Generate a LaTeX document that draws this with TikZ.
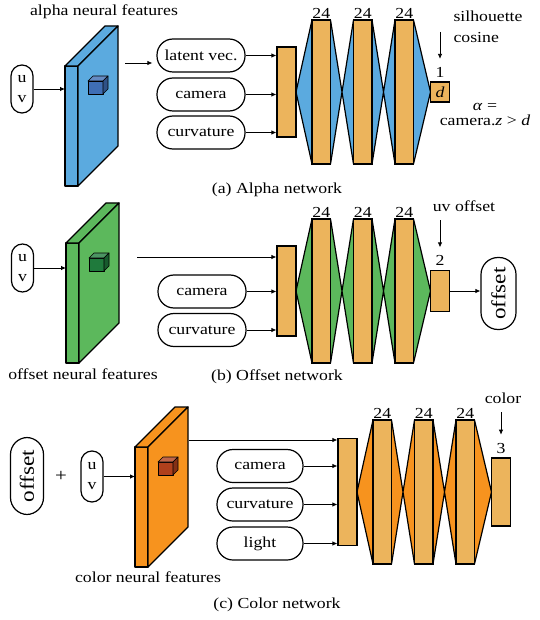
\documentclass[tikz,border=0pt]{standalone}
\usepackage{fontspec}
\setmainfont{Liberation Serif}[FakeStretch=1.16]
\usetikzlibrary{arrows.meta}
\definecolor{layerc}{HTML}{ECB45C}
\definecolor{blueA}{HTML}{5BAADF}
\definecolor{cubeA}{HTML}{3F6EB4}
\definecolor{greenB}{HTML}{5CB85C}
\definecolor{cubeB}{HTML}{1F7A3C}
\definecolor{orangeC}{HTML}{F7931E}
\definecolor{cubeC}{HTML}{B0401C}
\tikzset{
 txt/.style={font=\fontsize{15.3}{18}\selectfont},
 pill/.style={draw, line width=1.2pt, rounded corners=16pt, minimum width=88pt, minimum height=33pt, inner sep=0pt, txt},
 uvnode/.style={draw, line width=1.2pt, rounded corners=11pt, minimum width=22pt, minimum height=48pt, inner sep=0pt, align=center, txt},
 offnode/.style={draw, line width=1.2pt, rounded corners=17pt, rotate=90, minimum width=72pt, minimum height=35pt, inner sep=0pt, font=\fontsize{20}{22}\selectfont},
 layer/.style={draw, line width=1.2pt, fill=layerc, minimum width=18.5pt, inner sep=0pt, txt},
 arr/.style={-{Latex[length=5pt,width=4.5pt]}, line width=0.8pt},
 slabline/.style={draw=black, line width=1.3pt, line join=round},
 numlbl/.style={txt, anchor=south, inner sep=0pt, yshift=4pt},
}
% slab: #1 x, #2 y (front top-left), #3 colour, #4 cube colour
\newcommand\myslab[4]{%
 \filldraw[slabline, fill=#3] (#1,#2) rectangle ({#1+13},{#2+120});
 \filldraw[slabline, fill=#3] (#1,#2) -- ({#1+40},{#2-40}) -- ({#1+53},{#2-40}) -- ({#1+13},#2) -- cycle;
 \filldraw[slabline, fill=#3] ({#1+13},#2) -- ({#1+53},{#2-40}) -- ({#1+53},{#2+80}) -- ({#1+13},{#2+120}) -- cycle;
 \filldraw[draw=black, line width=0.6pt, line join=round, fill=#4] ({#1+23},{#2+15}) rectangle ({#1+38},{#2+28});
 \filldraw[draw=black, line width=0.6pt, line join=round, fill=#4!80!white] ({#1+23},{#2+15}) -- ({#1+28},{#2+10}) -- ({#1+43},{#2+10}) -- ({#1+38},{#2+15}) -- cycle;
 \filldraw[draw=black, line width=0.6pt, line join=round, fill=#4!75!black] ({#1+38},{#2+15}) -- ({#1+43},{#2+10}) -- ({#1+43},{#2+23}) -- ({#1+38},{#2+28}) -- cycle;
}
% network: #1 x0, #2 yc, #3 first half height, #4 out half height, #5 colour, #6 prefix, #7 out text
\newcommand\mlp[7]{%
 \filldraw[fill=#5, draw=black, line width=1.2pt, line join=round]
  ({#1+19},#2) -- ({#1+35},{#2-72}) -- ({#1+53.5},{#2-72}) -- ({#1+65},#2)
  -- ({#1+76.5},{#2-72}) -- ({#1+95},{#2-72}) -- ({#1+106.5},#2)
  -- ({#1+118},{#2-72}) -- ({#1+136.5},{#2-72}) -- ({#1+153.5},#2)
  -- ({#1+136.5},{#2+72}) -- ({#1+118},{#2+72}) -- ({#1+106.5},#2)
  -- ({#1+95},{#2+72}) -- ({#1+76.5},{#2+72}) -- ({#1+65},#2)
  -- ({#1+53.5},{#2+72}) -- ({#1+35},{#2+72}) -- cycle;
 \node[layer, minimum width=19pt, minimum height={2*#3}] (#6in) at ({#1+9.5},#2) {};
 \node[layer, minimum height=144pt] (#6l1) at ({#1+44.25},#2) {};
 \node[layer, minimum height=144pt] (#6l2) at ({#1+85.75},#2) {};
 \node[layer, minimum height=144pt] (#6l3) at ({#1+127.25},#2) {};
 \node[layer, minimum width=19pt, minimum height={2*#4}] (#6out) at ({#1+163},#2) {#7};
 \foreach \i in {1,2,3} \node[txt, anchor=south, inner sep=1pt] at (#6l\i.north) {24};
}
\begin{document}
\begin{tikzpicture}[x=1pt, y=-1pt]
\useasboundingbox (0,0) rectangle (539,620);

% ---------------- (a) ----------------
\node[txt] (atitle) at (104,12) {alpha neural features};
\node[uvnode] (ua) at (22,89) {u\\[2pt]v};
\myslab{65}{66}{blueA}{cubeA}
\coordinate (aslabin) at (65,66);
\coordinate (aso) at (125,63);
\draw[arr] (ua.east) -- (ua.east -| aslabin);
\node[pill] (alat) at (201,55.5) {latent vec.};
\node[pill] (acam) at (201,94.5) {camera};
\node[pill] (acur) at (201,132.5) {curvature};
\draw[arr, shorten >=4pt] (aso) -- (aso -| alat.west);
\mlp{277}{92}{45}{10}{blueA}{a}{\textit{d}}
\draw[arr] (alat.east) -- (alat.east -| ain.west);
\draw[arr] (acam.east) -- (acam.east -| ain.west);
\draw[arr] (acur.east) -- (acur.east -| ain.west);
\node[numlbl] (aone) at (aout.north) {1};
\coordinate (aarr) at (440,32);
\draw[arr, shorten >=8pt] (aarr) -- (aarr |- aone.north);
\node[txt, anchor=west] (asil) at (450,16) {silhouette};
\node[txt, anchor=west] (acos) at (450,37.5) {cosine};
\node[txt, align=center] (aalpha) at (485,114.5) {\textit{α} =\\[-3pt]camera.\textit{z} > \textit{d}};
\node[txt] (acap) at (277,190) {(a) Alpha network};

% ---------------- (b) ----------------
\node[uvnode] (ub) at (22.5,268) {u\\[2pt]v};
\myslab{66}{243}{greenB}{cubeB}
\coordinate (bslabin) at (66,243);
\coordinate (bso) at (137,257);
\draw[arr] (ub.east) -- (ub.east -| bslabin);
\node[pill] (bcam) at (202,291.5) {camera};
\node[pill] (bcur) at (202,330) {curvature};
\mlp{277}{291}{45}{20.5}{greenB}{b}{}
\draw[arr] (bso) -- (bso -| bin.west);
\draw[arr] (bcam.east) -- (bcam.east -| bin.west);
\draw[arr] (bcur.east) -- (bcur.east -| bin.west);
\node[numlbl] (btwo) at (bout.north) {2};
\coordinate (barr) at (440,220);
\draw[arr, shorten >=8pt] (barr) -- (barr |- btwo.north);
\node[txt] (buvoff) at (464,206) {uv offset};
\node[offnode] (boff) at (498.5,293.5) {offset};
\draw[arr] (bout.east) -- (bout.east -| boff.north);
\node[txt] (bfeat) at (83,374) {offset neural features};
\node[txt] (bcap) at (277,377) {(b) Offset network};

% ---------------- (c) ----------------
\node[offnode, minimum width=77pt, minimum height=33pt] (coff) at (27,476) {offset};
\node[txt, font=\fontsize{18}{20}\selectfont] (cplus) at (61,476) {+};
\node[uvnode, minimum height=51pt] (uc) at (92,476.5) {u\\[2pt]v};
\myslab{135}{447}{orangeC}{cubeC}
\coordinate (cslabin) at (135,447);
\coordinate (cso) at (189,440);
\draw[arr] (uc.east) -- (uc.east -| cslabin);
\node[pill, minimum width=86pt] (ccam) at (260,466) {camera};
\node[pill, minimum width=86pt] (ccur) at (260,504.5) {curvature};
\node[pill, minimum width=86pt] (clight) at (260,543.5) {light};
\mlp{338}{492}{53.5}{34}{orangeC}{c}{}
\draw[arr] (cso) -- (cso -| cin.west);
\draw[arr] (ccam.east) -- (ccam.east -| cin.west);
\draw[arr] (ccur.east) -- (ccur.east -| cin.west);
\draw[arr] (clight.east) -- (clight.east -| cin.west);
\node[numlbl] (cthree) at (cout.north) {3};
\coordinate (carr) at (cout.north |- 0,412);
\draw[arr, shorten >=8pt] (carr) -- (carr |- cthree.north);
\node[txt] (ccolor) at (503,398) {color};
\node[txt] (cfeat) at (148,577) {color neural features};
\node[txt] (ccap) at (277,605) {(c) Color network};
\end{tikzpicture}
\end{document}
